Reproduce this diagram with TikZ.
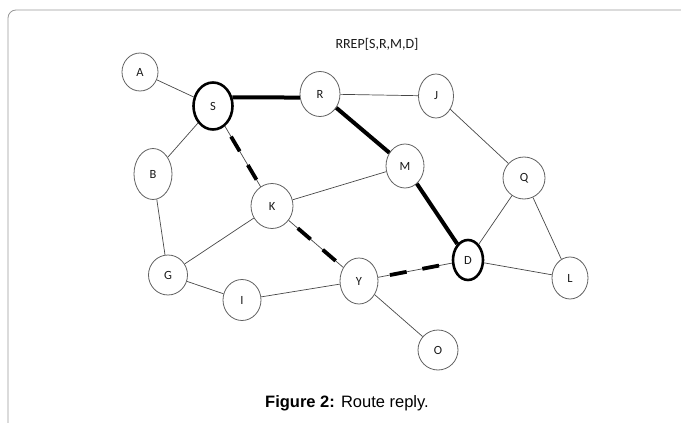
\documentclass[tikz,border=0pt]{standalone}
\usepackage{fontspec}
\setmainfont{Carlito}
\newfontfamily\capfont{Liberation Sans}
\usetikzlibrary{shapes.geometric}
\begin{document}
\begin{tikzpicture}[x=1pt,y=-1pt,
  nd/.style={ellipse, draw=black!62, line width=0.8pt, inner sep=0pt,
    minimum width=38pt, minimum height=44pt,
    font=\fontsize{12.5}{14}\selectfont, text=black!90},
  hub/.style={nd, draw=black, line width=2.6pt},
  link/.style={draw=black!72, line width=0.7pt},
  route/.style={draw=black, line width=4pt},
  rrep/.style={draw=black, line width=3.8pt, dash pattern=on 17pt off 16pt, dash phase=21pt},
]
\useasboundingbox (0,0) rectangle (681,423);
% page frame
\draw[black!40, line width=0.8pt, rounded corners=8pt] (8,423) -- (8,10) -- (681,10);

% title and caption
\node[font=\fontsize{14}{16}\selectfont, text=black!90] (title) at (377,44) {RREP[S,R,M,D]};
\node[font=\capfont\fontsize{16.5}{19}\selectfont] (caption) at (347,403) {\textbf{Figure 2:} Route reply.};

% nodes
\node[nd, minimum width=36pt, minimum height=38pt] (A) at (140,72) {A};
\node[hub, minimum width=39pt, minimum height=47pt] (S) at (213,106) {S};
\node[nd, minimum width=40pt, minimum height=45pt] (R) at (320,94) {R};
\node[nd, minimum width=35pt, minimum height=44pt] (J) at (436,96) {J};
\node[nd, minimum width=38pt, minimum height=51pt] (B) at (153,174) {B};
\node[nd, minimum width=42pt, minimum height=45pt] (K) at (272,206) {K};
\node[nd, minimum width=38pt, minimum height=44pt] (M) at (405,166) {M};
\node[nd, minimum width=42pt, minimum height=42pt] (Q) at (524,178) {Q};
\node[nd, minimum width=39pt, minimum height=40pt] (G) at (168,275) {G};
\node[nd, minimum width=38pt, minimum height=41pt] (I) at (242,300) {I};
\node[nd, minimum width=38pt, minimum height=46pt] (Y) at (359,281) {Y};
\node[hub, minimum width=30pt, minimum height=40pt] (D) at (468,260) {D};
\node[nd, minimum width=36pt, minimum height=42pt] (L) at (570,278) {L};
\node[nd, minimum width=40pt, minimum height=40pt] (O) at (438,350) {O};

% ordinary links
\draw[link] (A) -- (S);
\draw[link] (S) -- (B);
\draw[link] (R) -- (J);
\draw[link] (M) -- (K);
\draw[link] (J) -- (Q);
\draw[link] (Q) -- (D);
\draw[link] (Q) -- (L);
\draw[link] (D) -- (L);
\draw[link] (B) -- (G);
\draw[link] (K) -- (G);
\draw[link] (G) -- (I);
\draw[link] (I) -- (Y);
\draw[link] (Y) -- (O);

% forward route S-R-M-D
\draw[route] (S.24) -- (R.190);
\draw[route] (R) -- (M);
\draw[route] (M) -- (D);

% route reply S-K-Y-D
\draw[link] (S) -- (K);
\draw[link] (K) -- (Y);
\draw[link] (Y) -- (D);
\draw[rrep] (S) -- (K);
\draw[rrep] (K) -- (Y);
\draw[rrep] (Y) -- (D);
\end{tikzpicture}
\end{document}
